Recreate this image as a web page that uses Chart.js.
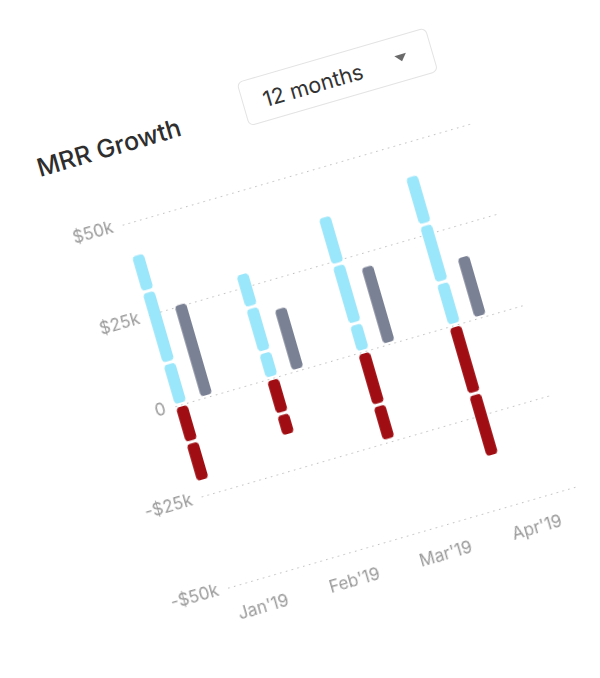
<!DOCTYPE html>
<html lang="en">
<head>
<meta charset="UTF-8" />
<title>MRR Growth</title>
<script src="https://cdn.jsdelivr.net/npm/chart.js"></script>
<style>
  body {
    margin: 0;
    width: 600px;
    height: 678px;
    overflow: hidden;
    background: #fff;
    font-family: Inter, "Noto Sans", sans-serif;
  }
  .card {
    position: absolute;
    left: 0;
    top: 0;
    width: 460px;
    height: 700px;
    transform-origin: 0 0;
    transform: rotate(-16.2deg);
  }
  .title {
    position: absolute;
    left: -11px;
    top: 160px;
    font-size: 25px;
    line-height: 25px;
    font-weight: 500;
    color: #2e2e2e;
    white-space: nowrap;
  }
  .select {
    position: absolute;
    left: 204px;
    top: 145px;
    width: 197px;
    height: 46px;
    box-sizing: border-box;
    border: 1px solid #e3e3e3;
    border-radius: 6px;
  }
  .select span {
    position: absolute;
    left: 20px;
    top: 12px;
    font-size: 21.5px;
    line-height: 22px;
    color: #333;
    white-space: nowrap;
  }
  .caret {
    position: absolute;
    right: 25px;
    top: 18px;
    width: 0;
    height: 0;
    border-left: 6px solid transparent;
    border-right: 6px solid transparent;
    border-top: 7px solid #6a6a6a;
  }
  .chart-box {
    position: absolute;
    left: -10px;
    top: 230px;
    width: 441px;
    height: 450px;
  }
</style>
</head>
<body>
<div class="card">
  <div class="title">MRR Growth</div>
  <div class="select"><span>12 months</span><div class="caret"></div></div>
  <div class="chart-box"><canvas id="mrrChart"></canvas></div>
</div>

<script>
  // values in $k
  const months = ["Jan'19", "Feb'19", "Mar'19", "Apr'19"];
  const newMrr = [11.6, 7.3, 7.8, 11.9];
  const expansionMrr = [19.7, 12.3, 16.3, 15.9];
  const reactivationMrr = [10.3, 9.4, 13.3, 13.5];
  const contractionMrr = [-10.2, -9.7, -14.6, -18.8];
  const churnMrr = [-10.8, -6.0, -9.7, -17.3];
  const netMrr = [25.9, 17.5, 21.7, 17.1];
  const yTicks = [-50, -25, 0, 25, 50];

  const blue = "#9ae6fa";
  const red = "#a00d12";
  const grey = "#7b8194";

  const toPoints = (arr) => arr.map((y, i) => ({ x: i, y: y }));

  const barStyle = {
    borderRadius: { topLeft: 5, topRight: 5, bottomLeft: 5, bottomRight: 5 },
    borderSkipped: false,
    borderColor: "#fff",
    borderWidth: { top: 1.5, bottom: 1.5, left: 0, right: 0 },
    categoryPercentage: 0.57,
    barPercentage: 0.44,
  };

  Chart.defaults.font.family = "Inter, sans-serif";

  new Chart(document.getElementById("mrrChart").getContext("2d"), {
    type: "bar",
    data: {
      datasets: [
        { label: "New", data: toPoints(newMrr), backgroundColor: blue, stack: "flow", ...barStyle },
        { label: "Expansion", data: toPoints(expansionMrr), backgroundColor: blue, stack: "flow", ...barStyle },
        { label: "Reactivation", data: toPoints(reactivationMrr), backgroundColor: blue, stack: "flow", ...barStyle },
        { label: "Contraction", data: toPoints(contractionMrr), backgroundColor: red, stack: "flow", ...barStyle },
        { label: "Churn", data: toPoints(churnMrr), backgroundColor: red, stack: "flow", ...barStyle },
        { label: "Net", data: toPoints(netMrr), backgroundColor: grey, stack: "net", ...barStyle },
      ],
    },
    options: {
      responsive: true,
      maintainAspectRatio: false,
      animation: false,
      layout: { padding: { top: 17, right: 10, bottom: 0, left: 0 } },
      plugins: {
        legend: { display: false },
        tooltip: { enabled: false },
      },
      scales: {
        x: {
          type: "linear",
          min: -0.206,
          max: 3.647,
          offset: false,
          grid: { display: false, drawTicks: false },
          border: { display: false },
          afterBuildTicks: (s) => {
            s.ticks = months.map((_, i) => ({ value: i }));
          },
          afterFit: (s) => {
            s.height = 52;
          },
          ticks: {
            callback: (v) => months[v],
            labelOffset: 9,
            padding: 19,
            maxRotation: 0,
            autoSkip: false,
            color: "#9a9a9a",
            font: { size: 17 },
          },
        },
        y: {
          min: -50,
          max: 50,
          stacked: true,
          afterBuildTicks: (s) => {
            s.ticks = yTicks.map((v) => ({ value: v }));
          },
          afterFit: (s) => {
            s.width = 65;
          },
          grid: { color: "#bdbdbd", lineWidth: 1, drawTicks: false },
          border: { display: false, dash: [1.5, 4.5] },
          ticks: {
            padding: 10,
            color: "#9a9a9a",
            font: { size: 17 },
            callback: (v) => (v === 0 ? "0" : (v < 0 ? "-$" : "$") + Math.abs(v) + "k"),
          },
        },
      },
    },
  });
</script>
</body>
</html>
